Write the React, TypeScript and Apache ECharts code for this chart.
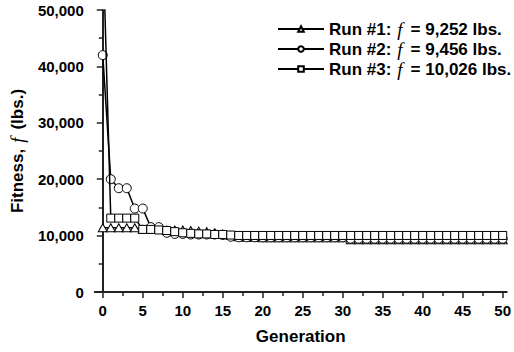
import React, { useEffect, useRef } from "react";
import * as echarts from "echarts";

const generations = [
  0, 1, 2, 3, 4, 5, 6, 7, 8, 9, 10, 11, 12, 13, 14, 15, 16, 17, 18, 19, 20,
  21, 22, 23, 24, 25, 26, 27, 28, 29, 30, 31, 32, 33, 34, 35, 36, 37, 38, 39,
  40, 41, 42, 43, 44, 45, 46, 47, 48, 49, 50,
];

const run1 = [
  11400, 11400, 11400, 11400, 11400, 11100, 11100, 11100, 11000, 11000,
  11000, 10900, 10800, 10700, 10500, 10300, 10000, 9800, 9700, 9700,
  9600, 9600, 9600, 9600, 9600, 9600, 9600, 9600, 9600, 9600,
  9600, 9252, 9252, 9252, 9252, 9252, 9252, 9252, 9252, 9252,
  9252, 9252, 9252, 9252, 9252, 9252, 9252, 9252, 9252, 9252, 9252,
];

const run2 = [
  42000, 20000, 18400, 18400, 14800, 14800, 11500, 11500, 10500, 10300,
  10300, 10200, 10200, 10200, 10200, 10100, 9800, 9700, 9700, 9700,
  9700, 9700, 9700, 9700, 9700, 9700, 9700, 9700, 9700, 9700,
  9700, 9456, 9456, 9456, 9456, 9456, 9456, 9456, 9456, 9456,
  9456, 9456, 9456, 9456, 9456, 9456, 9456, 9456, 9456, 9456, 9456,
];

const run3 = [
  63000, 13100, 13100, 13100, 13100, 11100, 11100, 11000, 10900, 10700,
  10500, 10400, 10300, 10300, 10200, 10200, 10100, 10026, 10026, 10026,
  10026, 10026, 10026, 10026, 10026, 10026, 10026, 10026, 10026, 10026,
  10026, 10026, 10026, 10026, 10026, 10026, 10026, 10026, 10026, 10026,
  10026, 10026, 10026, 10026, 10026, 10026, 10026, 10026, 10026, 10026, 10026,
];

const seriesNames = ["Run #1", "Run #2", "Run #3"];
const finalFitness = ["9,252", "9,456", "10,026"];
const symbols = ["triangle", "circle", "rect"];
const symbolSizes: any[] = [[9, 8], 9, 8];

const xMajorTicks = [0, 5, 10, 15, 20, 25, 30, 35, 40, 45, 50];
const xMinorTicks = [2.5, 7.5, 12.5, 17.5, 22.5, 27.5, 32.5, 37.5, 42.5, 47.5];

const FONT = "Liberation Sans";
const AXIS_COLOR = "#222";

export default function App() {
  const ref = useRef<HTMLDivElement>(null);

  useEffect(() => {
    if (!ref.current) return;
    const chart = echarts.init(ref.current, null, { renderer: "svg" });
    const allRuns = [run1, run2, run3];

    const option: any = {
      animation: false,
      backgroundColor: "#fff",
      grid: { left: 91, right: 3, top: 10, bottom: 60, containLabel: false },
      legend: {
        orient: "vertical",
        left: 272,
        top: 14,
        itemWidth: 46,
        itemHeight: 7,
        itemGap: 0,
        selectedMode: false,
        data: seriesNames,
        formatter: (name: string) => {
          const i = seriesNames.indexOf(name);
          return `{b|${name}:}{i|f}{b|= ${finalFitness[i]} lbs.}`;
        },
        textStyle: {
          color: "#000",
          lineHeight: 20,
          rich: {
            b: { fontFamily: FONT, fontWeight: "bold", fontSize: 17, color: "#000", lineHeight: 20 },
            i: {
              fontFamily: "Liberation Serif",
              fontStyle: "italic",
              fontSize: 19,
              color: "#000",
              lineHeight: 20,
              padding: [0, 8, 0, 6],
            },
          },
        },
      },
      xAxis: [
        {
          type: "value",
          min: -1,
          max: 50.5,
          name: "Generation",
          nameLocation: "middle",
          nameGap: 36,
          nameTextStyle: { fontFamily: FONT, fontWeight: "bold", fontSize: 17, color: "#000" },
          axisLine: { show: true, onZero: false, lineStyle: { color: AXIS_COLOR, width: 2 } },
          axisTick: { show: true, customValues: xMajorTicks, length: 6, inside: false, lineStyle: { color: AXIS_COLOR, width: 1.5 } },
          axisLabel: { customValues: xMajorTicks, margin: 11, fontFamily: FONT, fontWeight: "bold", fontSize: 15, color: "#000" },
          splitLine: { show: false },
        },
        {
          type: "value",
          min: -1,
          max: 50.5,
          position: "bottom",
          offset: 0,
          axisLine: { show: false, onZero: false },
          axisTick: { show: true, customValues: xMinorTicks, length: 4, inside: false, lineStyle: { color: AXIS_COLOR, width: 1.5 } },
          axisLabel: { show: false },
          splitLine: { show: false },
        },
      ],
      yAxis: {
        type: "value",
        min: 0,
        max: 50000,
        interval: 10000,
        name: "{b|Fitness,}{i|f}{b|(lbs.)}",
        nameLocation: "middle",
        nameGap: 67,
        nameTextStyle: {
          color: "#000",
          rich: {
            b: { fontFamily: FONT, fontWeight: "bold", fontSize: 17, color: "#000" },
            i: {
              fontFamily: "Liberation Serif",
              fontStyle: "italic",
              fontSize: 19,
              color: "#000",
              padding: [0, 8, 0, 6],
            },
          },
        },
        axisLine: { show: true, lineStyle: { color: AXIS_COLOR, width: 2 } },
        axisTick: { show: true, length: 6, inside: false, lineStyle: { color: AXIS_COLOR, width: 1.5 } },
        minorTick: { show: true, splitNumber: 2, length: 4, lineStyle: { color: AXIS_COLOR, width: 1.5 } },
        axisLabel: {
          margin: 11,
          fontFamily: FONT,
          fontWeight: "bold",
          fontSize: 15,
          color: "#000",
          formatter: (v: number) => v.toLocaleString("en-US"),
        },
        splitLine: { show: false },
      },
      series: allRuns.map((vals, k) => ({
        name: seriesNames[k],
        type: "line",
        xAxisIndex: 0,
        data: generations.map((g, i) => [g, vals[i]]),
        symbol: symbols[k],
        symbolSize: symbolSizes[k],
        showSymbol: true,
        showAllSymbol: true,
        clip: true,
        z: 2 + k,
        lineStyle: { color: "#000", width: 1.5 },
        itemStyle: { color: "#fff", borderColor: "#000", borderWidth: 1 },
        emphasis: { disabled: true },
      })),
    };

    chart.setOption(option);
    return () => chart.dispose();
  }, []);

  return (
    <div
      ref={ref}
      style={{ position: "absolute", left: 0, top: 0, width: 514, height: 352 }}
    />
  );
}
